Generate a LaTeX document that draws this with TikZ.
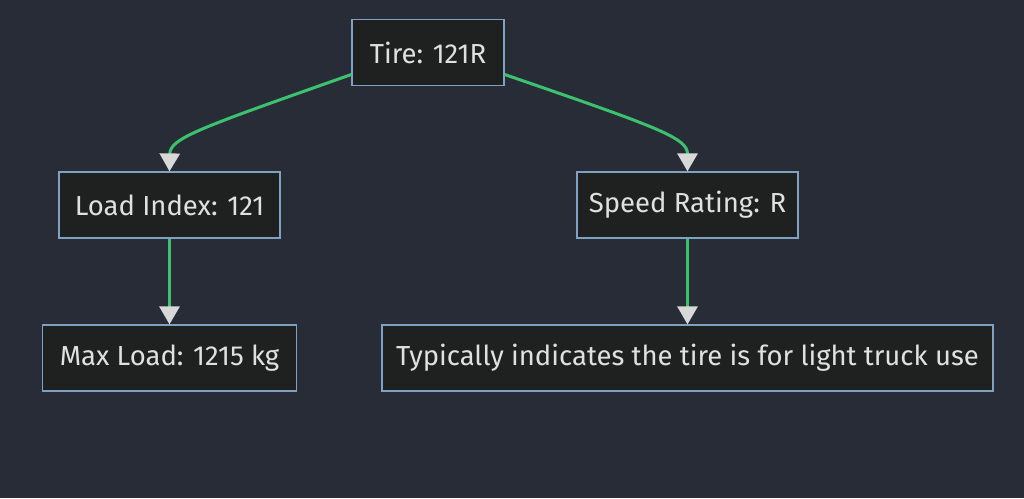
\documentclass[tikz,border=0pt]{standalone}
\usepackage{fontspec}
\setmainfont{Fira Sans}
\usepackage{xcolor}
\usepackage{tikz}
\usetikzlibrary{positioning, arrows.meta}
\definecolor{bgdark}{HTML}{282C37}
\definecolor{boxfill}{HTML}{1F2020}
\definecolor{boxline}{HTML}{7EA1C4}
\definecolor{textgray}{HTML}{E0E0E0}
\definecolor{linkgreen}{HTML}{3CC26E}
\definecolor{tipgray}{HTML}{D8D8D8}

\tikzset{
  box/.style={fill=boxfill, draw=boxline, line width=1.2pt, text=textgray,
              font=\fontsize{27.5}{32}\selectfont, inner xsep=10pt,
              minimum height=66pt},
  link/.style={draw=linkgreen, line width=3pt,
               -{Triangle[width=20pt,length=18pt,color=tipgray]}}
}

\begin{document}
\begin{tikzpicture}[x=1pt, y=1pt]
    \fill[bgdark] (0,0) rectangle (1024,498);
    \useasboundingbox (0,0) rectangle (1024,498);

    \node[box, minimum width=152pt] (tire)  at (428,445.5)  {Tire: 121R};
    \node[box, minimum width=221pt] (load)  at (169.5,293)  {Load Index: 121};
    \node[box, minimum width=221pt] (speed) at (687.5,293)  {Speed Rating: R};
    \node[box, minimum width=254pt] (max)   at (169.5,140)  {Max Load: 1215 kg};
    \node[box, minimum width=611pt] (use)   at (687.5,140)  {Typically indicates the tire is for light truck use};

    \draw[link] ([yshift=-22pt]tire.west) .. controls (200,370) and (170,360) .. (load.north);
    \draw[link] ([yshift=-22pt]tire.east) .. controls (660,370) and (687.5,360) .. (speed.north);
    \draw[link] (load) -- (max);
    \draw[link] (speed) -- (use);
  \end{tikzpicture}
\end{document}
